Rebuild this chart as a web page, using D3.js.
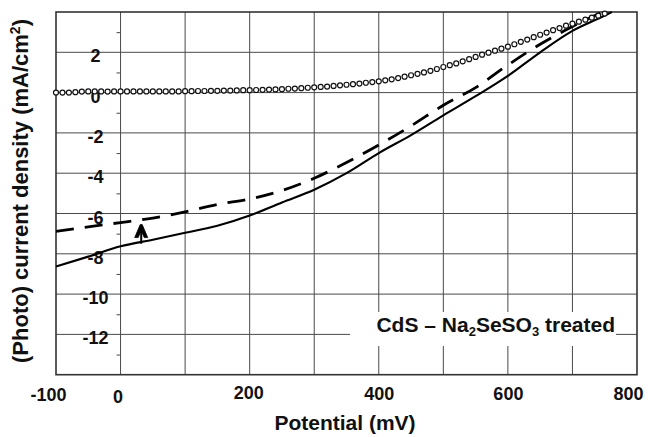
<!DOCTYPE html>
<html>
<head>
<meta charset="utf-8">
<script src="https://cdn.jsdelivr.net/npm/d3@7"></script>
<style>
  html, body { margin: 0; padding: 0; background: #fff; }
  svg { display: block; }
  text { font-family: "Liberation Sans", Arial, Helvetica, sans-serif; font-weight: bold; fill: #111; }
</style>
</head>
<body>
<svg id="chart" width="653" height="437"></svg>
<script>
// Photocurrent density vs. potential, CdS film after Na2SeSO3 treatment

// Solid curve (potential in mV, current density in mA/cm2)
const solidPotential = [-100, -50, 0, 50, 100, 150, 200, 250, 300, 350, 400, 450, 500, 550, 600, 650, 700, 750, 761];
const solidCurrent   = [-8.63, -8.14, -7.63, -7.3, -6.96, -6.61, -6.1, -5.45, -4.82, -4.0, -3.0, -2.11, -1.13, -0.18, 0.83, 2.0, 3.06, 3.82, 4.0];

// Dashed curve
const dashedPotential = [-100, -50, 0, 50, 100, 150, 200, 250, 300, 350, 400, 450, 500, 550, 600, 650, 700, 743];
const dashedCurrent   = [-6.89, -6.66, -6.45, -6.23, -5.92, -5.55, -5.28, -4.86, -4.25, -3.47, -2.6, -1.65, -0.63, 0.25, 1.37, 2.4, 3.28, 3.95];

// Open-circle curve
const dotPotential = [-100, -90, -80, -70, -60, -50, -40, -30, -20, -10,
  0, 10, 20, 30, 40, 50, 60, 70, 80, 90,
  100, 110, 120, 130, 140, 150, 160, 170, 180, 190,
  200, 210, 220, 230, 240, 250, 260, 270, 280, 290,
  300, 310, 320, 330, 340, 350, 360, 370, 380, 390,
  400, 410, 420, 430, 440, 450, 460, 470, 480, 490,
  500, 510, 520, 530, 540, 550, 560, 570, 580, 590,
  600, 610, 620, 630, 640, 650, 660, 670, 680, 690,
  700, 710, 720, 730, 740, 750];
const dotCurrent = [0.0, 0.0, 0.0, 0.02, 0.05, 0.06, 0.06, 0.06, 0.05, 0.06,
  0.06, 0.06, 0.06, 0.06, 0.06, 0.06, 0.06, 0.06, 0.06, 0.06,
  0.07, 0.07, 0.08, 0.08, 0.09, 0.09, 0.1, 0.1, 0.11, 0.12,
  0.12, 0.13, 0.14, 0.15, 0.16, 0.17, 0.19, 0.2, 0.22, 0.24,
  0.26, 0.28, 0.3, 0.33, 0.36, 0.39, 0.42, 0.45, 0.49, 0.52,
  0.56, 0.61, 0.66, 0.72, 0.79, 0.86, 0.93, 1.0, 1.08, 1.17,
  1.27, 1.36, 1.45, 1.55, 1.66, 1.77, 1.88, 1.98, 2.08, 2.18,
  2.28, 2.4, 2.52, 2.63, 2.75, 2.87, 2.98, 3.1, 3.2, 3.32,
  3.42, 3.52, 3.62, 3.72, 3.82, 3.92];

// Arrow between the two curves
const arrowPotential = [32];
const arrowFrom = [-7.5];
const arrowTo = [-6.55];

// Axis ticks
const xTickLabels = [-100, 0, 200, 400, 600, 800];
const xGridValues = [0, 100, 200, 300, 400, 500, 600, 700];
const yTickLabels = [-12, -10, -8, -6, -4, -2, 0, 2];
const yMinorTicks = [-13, -11, -9, -7, -5, -3, -1, 1, 3];

const svg = d3.select("#chart");

const x = d3.scaleLinear().domain([-100, 800]).range([56, 637]);
const y = d3.scaleLinear().domain([-14, 4]).range([374.7, 12]);

// Grid
const grid = svg.append("g").attr("stroke", "#4a4a4a").attr("stroke-width", 1);
grid.selectAll("line.v").data(xGridValues).join("line")
  .attr("x1", d => x(d)).attr("x2", d => x(d))
  .attr("y1", y(4)).attr("y2", y(-14));
grid.selectAll("line.h").data(yTickLabels).join("line")
  .attr("x1", x(-100)).attr("x2", x(800))
  .attr("y1", d => y(d)).attr("y2", d => y(d));

// Minor ticks on the zero-potential line
const minorAxis = svg.append("g")
  .attr("transform", `translate(${x(0)},0)`)
  .call(d3.axisLeft(y).tickValues(yMinorTicks).tickSize(4).tickFormat(""));
minorAxis.select(".domain").remove();
minorAxis.selectAll("line").attr("stroke", "#4a4a4a");

// Label panel that masks the grid
svg.append("rect")
  .attr("x", 350).attr("y", 312).attr("width", 266).attr("height", 34)
  .attr("fill", "#fff");

// Frame
svg.append("rect")
  .attr("x", x(-100)).attr("y", y(4))
  .attr("width", x(800) - x(-100)).attr("height", y(-14) - y(4))
  .attr("fill", "none").attr("stroke", "#333").attr("stroke-width", 1.6);

// Y tick labels (centred left of the zero line)
const yAxis = svg.append("g")
  .attr("transform", `translate(${x(0)},0)`)
  .call(d3.axisLeft(y).tickValues(yTickLabels).tickSize(0).tickFormat(d => String(d)));
yAxis.attr("font-family", null).attr("font-size", null);
yAxis.select(".domain").remove();
yAxis.selectAll(".tick text")
  .attr("x", -25).attr("y", 9.5).attr("dy", null)
  .attr("text-anchor", "middle")
  .style("font-size", "18px").attr("fill", "#111");

// X tick labels
const xShift = {"-100": -8, "0": -3, "200": -1.5, "400": 0, "600": 0, "800": -9};
const xBase = {"-100": 400.5, "0": 403, "200": 399, "400": 399.5, "600": 399.5, "800": 400};
const xAxis = svg.append("g")
  .call(d3.axisBottom(x).tickValues(xTickLabels).tickSize(0).tickFormat(d => String(d)));
xAxis.attr("font-family", null).attr("font-size", null);
xAxis.select(".domain").remove();
xAxis.selectAll(".tick text")
  .attr("x", d => xShift[d])
  .attr("y", d => xBase[d]).attr("dy", null)
  .attr("text-anchor", "middle")
  .style("font-size", "18px").attr("fill", "#111");

// Curves
const line = d3.line().x(d => x(d[0])).y(d => y(d[1])).curve(d3.curveMonotoneX);

svg.append("path")
  .datum(d3.zip(solidPotential, solidCurrent))
  .attr("d", line)
  .attr("fill", "none").attr("stroke", "#000").attr("stroke-width", 2.1)
  .attr("stroke-linejoin", "round");

svg.append("path")
  .datum(d3.zip(dashedPotential, dashedCurrent))
  .attr("d", line)
  .attr("fill", "none").attr("stroke", "#000").attr("stroke-width", 2.8)
  .attr("stroke-dasharray", "18,11");

svg.append("g").selectAll("circle")
  .data(d3.zip(dotPotential, dotCurrent)).join("circle")
  .attr("cx", d => x(d[0])).attr("cy", d => y(d[1]))
  .attr("r", 2.5)
  .attr("fill", "#fff").attr("stroke", "#111").attr("stroke-width", 1.2);

// Arrow
const arrows = svg.append("g").selectAll("g")
  .data(d3.zip(arrowPotential, arrowFrom, arrowTo)).join("g");
arrows.append("line")
  .attr("x1", d => x(d[0])).attr("x2", d => x(d[0]))
  .attr("y1", d => y(d[1])).attr("y2", d => y(d[2]) + 4)
  .attr("stroke", "#000").attr("stroke-width", 2);
arrows.append("path")
  .attr("d", d => {
    const ax = x(d[0]), ay = y(d[2]);
    return `M${ax - 6.5},${ay + 13} L${ax - 1},${ay} L${ax + 1},${ay} L${ax + 6.5},${ay + 13} L${ax + 3},${ay + 13} L${ax},${ay + 6} L${ax - 3},${ay + 13} Z`;
  })
  .attr("fill", "#000").attr("stroke", "#000").attr("stroke-width", 0.8)
  .attr("stroke-linejoin", "round");

// Sample label
const lab = svg.append("text")
  .attr("x", 615).attr("y", 331.5)
  .attr("text-anchor", "end")
  .style("font-size", "21px");
lab.append("tspan").text("CdS – Na");
lab.append("tspan").attr("dy", 4).style("font-size", "13px").text("2");
lab.append("tspan").attr("dy", -4).text("SeSO");
lab.append("tspan").attr("dy", 4).style("font-size", "13px").text("3");
lab.append("tspan").attr("dy", -4).text(" treated");

// Axis titles
svg.append("text")
  .attr("x", 345).attr("y", 430)
  .attr("text-anchor", "middle")
  .style("font-size", "21px")
  .text("Potential (mV)");

const yt = svg.append("text")
  .attr("transform", "translate(28,191) rotate(-90)")
  .attr("text-anchor", "middle")
  .style("font-size", "22px");
yt.append("tspan").text("(Photo) current density (mA/cm");
yt.append("tspan").attr("dy", -8).style("font-size", "14px").text("2");
yt.append("tspan").attr("dy", 8).text(")");
</script>
</body>
</html>
